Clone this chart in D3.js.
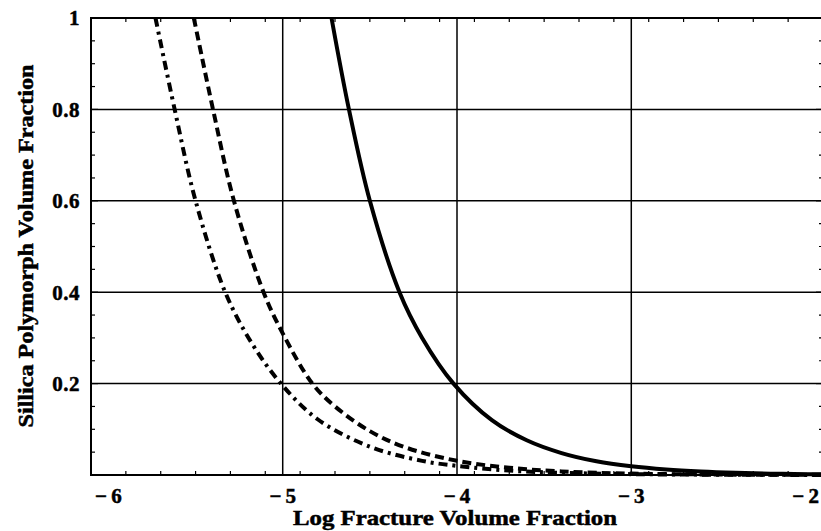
<!DOCTYPE html>
<html>
<head>
<meta charset="utf-8">
<script src="https://cdn.jsdelivr.net/npm/d3@7"></script>
<style>
  body { margin: 0; background: #fff; }
  svg text { font-family: "Liberation Serif", "Times New Roman", serif; font-weight: bold; fill: #000; stroke: #000; stroke-width: 0.5px; }
</style>
</head>
<body>
<div id="chart"></div>
<script>
// values: [log fracture volume fraction, polymorph volume fraction]
const solidCurve = [
  [-4.72, 1.0], [-4.62, 0.8], [-4.50, 0.6], [-4.33, 0.4], [-4.20, 0.30],
  [-4.02, 0.2], [-3.80, 0.12], [-3.60, 0.076], [-3.40, 0.048], [-3.20, 0.030],
  [-3.00, 0.019], [-2.80, 0.012], [-2.60, 0.0076], [-2.40, 0.0048],
  [-2.20, 0.003], [-2.00, 0.0019], [-1.90, 0.0015]
];
const dashedCurve = [
  [-5.51, 1.0], [-5.40, 0.8], [-5.28, 0.6], [-5.11, 0.4], [-5.00, 0.31],
  [-4.83, 0.2], [-4.70, 0.150], [-4.50, 0.096], [-4.30, 0.061], [-4.00, 0.031],
  [-3.70, 0.016], [-3.40, 0.0078], [-3.00, 0.0031], [-2.50, 0.001], [-1.90, 0.0003]
];
const dashDotCurve = [
  [-5.73, 1.0], [-5.62, 0.8], [-5.50, 0.6], [-5.33, 0.4], [-5.18, 0.29],
  [-5.01, 0.2], [-4.80, 0.122], [-4.50, 0.062], [-4.20, 0.031], [-4.00, 0.020],
  [-3.70, 0.0096], [-3.40, 0.0048], [-3.00, 0.0019], [-2.50, 0.0006], [-1.90, 0.0002]
];

const xTicks = [-6, -5, -4, -3, -2];
const yTicks = [0.2, 0.4, 0.6, 0.8, 1];
const xGrid = [-5, -4, -3];
const yGrid = [0.2, 0.4, 0.6, 0.8];

const width = 821, height = 531;
const margin = {top: 18, right: -2, bottom: 56, left: 91};

const svg = d3.select("#chart").append("svg")
    .attr("width", width)
    .attr("height", height);

const x = d3.scaleLinear()
    .domain([-6.1, -1.9])
    .range([margin.left, width - margin.right]);
const y = d3.scaleLinear()
    .domain([0, 1])
    .range([height - margin.bottom, margin.top]);

// grid
svg.append("g").selectAll("line.vg")
    .data(xGrid).enter().append("line")
    .attr("x1", d => x(d)).attr("x2", d => x(d))
    .attr("y1", y(0)).attr("y2", y(1))
    .attr("stroke", "#000").attr("stroke-width", 1.5);
svg.append("g").selectAll("line.hg")
    .data(yGrid).enter().append("line")
    .attr("x1", x(-6.1)).attr("x2", x(-1.9))
    .attr("y1", d => y(d)).attr("y2", d => y(d))
    .attr("stroke", "#000").attr("stroke-width", 1.5);

// ticks inward on every side
const xMinor = d3.range(-61, -18, 2).map(d => d / 10);
const yMinor = d3.range(1, 20).map(d => d * 0.05);
const ticks = svg.append("g").attr("stroke", "#000").attr("stroke-width", 1.2);
xMinor.forEach(v => {
  const len = Math.abs(v - Math.round(v)) < 1e-6 ? 7 : 4;
  ticks.append("line").attr("x1", x(v)).attr("x2", x(v)).attr("y1", y(0)).attr("y2", y(0) - len);
  ticks.append("line").attr("x1", x(v)).attr("x2", x(v)).attr("y1", y(1)).attr("y2", y(1) + len);
});
yMinor.forEach(v => {
  const len = Math.abs(v * 5 - Math.round(v * 5)) < 1e-6 ? 7 : 4;
  ticks.append("line").attr("x1", x(-6.1)).attr("x2", x(-6.1) + len).attr("y1", y(v)).attr("y2", y(v));
  ticks.append("line").attr("x1", x(-1.9)).attr("x2", x(-1.9) - len).attr("y1", y(v)).attr("y2", y(v));
});

// frame
svg.append("rect")
    .attr("x", x(-6.1)).attr("y", y(1))
    .attr("width", x(-1.9) - x(-6.1)).attr("height", y(0) - y(1))
    .attr("fill", "none").attr("stroke", "#000").attr("stroke-width", 2);

// curves
const line = d3.line()
    .x(d => x(d[0]))
    .y(d => y(d[1]))
    .curve(d3.curveCatmullRom.alpha(0.5));

const curves = svg.append("g")
    .attr("fill", "none").attr("stroke", "#000");

curves.append("path").datum(solidCurve)
    .attr("d", line).attr("stroke-width", 4);
curves.append("path").datum(dashedCurve)
    .attr("d", line).attr("stroke-width", 4)
    .attr("stroke-dasharray", "9,5");
curves.append("path").datum(dashDotCurve)
    .attr("d", line).attr("stroke-width", 4)
    .attr("stroke-dasharray", "9,5,3,5");

// tick labels
svg.append("g").selectAll("text")
    .data(xTicks).enter().append("text")
    .attr("x", d => x(d))
    .attr("y", 503)
    .attr("text-anchor", "middle")
    .style("font-size", "21px")
    .text(d => "\u2212\u2009" + Math.abs(d));

svg.append("g").selectAll("text")
    .data(yTicks).enter().append("text")
    .attr("x", 80)
    .attr("y", d => y(d))
    .attr("dy", "0.35em")
    .attr("text-anchor", "end")
    .style("font-size", "21px")
    .style("letter-spacing", "0.5px")
    .text(d => d === 1 ? "1" : d.toFixed(1));

// axis titles
svg.append("text")
    .attr("x", 455)
    .attr("y", 525)
    .attr("text-anchor", "middle")
    .attr("textLength", 324)
    .attr("lengthAdjust", "spacingAndGlyphs")
    .style("font-size", "21px")
    .text("Log Fracture Volume Fraction");

svg.append("text")
    .attr("transform", "translate(33,246) rotate(-90)")
    .attr("text-anchor", "middle")
    .attr("textLength", 363)
    .attr("lengthAdjust", "spacingAndGlyphs")
    .style("font-size", "21px")
    .text("Sillica Polymorph Volume Fraction");
</script>
</body>
</html>
